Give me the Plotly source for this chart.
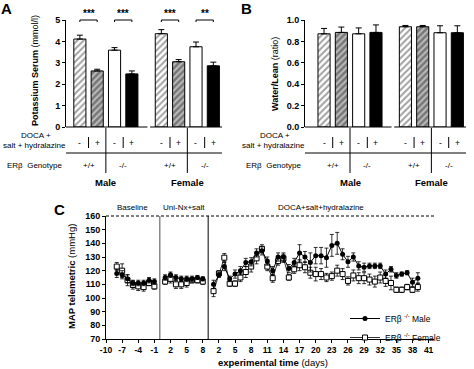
import plotly.graph_objects as go

# ---------------- data ----------------
sexes = ["Male", "Female"]
genotypes = ["+/+", "-/-"]
treatments = ["-", "+"]

potassium = [4.11, 2.62, 3.59, 2.48, 4.36, 3.05, 3.75, 2.86]
potassium_err = [0.18, 0.08, 0.12, 0.14, 0.19, 0.10, 0.22, 0.17]
sig_labels = ["***", "***", "***", "**"]

water_lean = [0.871, 0.884, 0.871, 0.884, 0.937, 0.937, 0.881, 0.881]
water_lean_err = [0.05, 0.05, 0.055, 0.07, 0.012, 0.012, 0.065, 0.065]

baseline_days = [-8, -7, -6, -5, -4, -3, -2, -1]
male_baseline = [118, 117, 114, 111, 111, 111, 113, 112]
male_baseline_err = [3, 3, 3, 2, 2, 2, 2, 2]
female_baseline = [123, 120, 113, 109.5, 108.5, 108, 111, 108.5]
female_baseline_err = [3, 5, 4, 3, 3, 3, 2, 2]

uninx_days = [1, 2, 3, 4, 5, 6, 7, 8]
male_uninx = [115, 117, 115, 114, 114, 114, 115, 114]
male_uninx_err = [2, 2, 2, 2, 2, 2, 1.5, 1.5]
female_uninx = [112, 114, 110, 110, 111, 113, 113, 112]
female_uninx_err = [2, 3, 3, 3, 3, 2, 2, 2]

doca_days = list(range(1, 40))
male_doca = [110, 117, 123, 114, 117.5, 120, 126, 126.5, 133, 134.5,
             127, 120, 130, 130, 121.5, 126, 133, 130, 126, 131,
             131, 129.5, 138.5, 140, 132, 126.5, 130, 123.5, 122.5, 123.5,
             123.5, 123.5, 117.5, 121, 116.5, 117.5, 118.5, 111.5, 114.5]
male_doca_err = [3, 2, 3, 2, 3, 3, 3, 3, 3, 3,
                 3, 3, 3, 3, 3, 3, 6, 4, 7, 6,
                 6, 7, 8, 8, 4, 4, 3, 3, 3, 2,
                 2, 2, 3, 2, 2, 1.5, 1.5, 3, 4]
female_doca = [105, 118, 129.5, 110.5, 110.5, 115, 119, 123, 129, 136,
               123, 114.5, 127, 129, 115, 121, 124, 122.5, 118.5, 117.5,
               117.5, 115, 116, 120, 117.5, 112.5, 116.5, 114.5, 114.5, 113.5,
               112, 115, 112.5, 111, 106, 106, 108, 106, 108]
female_doca_err = [4, 2, 3, 2, 2, 3, 4, 4, 4, 3,
                   3, 3, 3, 3, 2, 3, 4, 4, 4, 5,
                   4, 3, 3, 4, 4, 3, 4, 4, 4, 4,
                   4, 4, 4, 5, 2, 2, 2, 2, 3]

phase_names = ["Baseline", "Uni-Nx+salt", "DOCA+salt+hydralazine"]
baseline_ticks = [-10, -7, -4, -1]
uninx_ticks = [2, 5, 8]
doca_ticks = [2, 5, 8, 11, 14, 17, 20, 23, 26, 29, 32, 35, 38, 41]

# ---------------- layout helpers ----------------
W, H = 474, 369
FONT = "Liberation Sans"


def px(x):
    return x / W


def py(y):
    return 1 - y / H


def dpx(d):
    return d / W


GROUP_STEP = 4.7
OFFSET = 0.8
bar_pos = [g * GROUP_STEP + i + OFFSET for g in range(2) for i in range(4)]
bar_colors = ["white", "#777777", "white", "black"] * 2
bar_shapes = ["/", "/", "", ""] * 2

A_dom_x = [px(66), px(222)]
A_rng_x = [0, 9]
B_dom_x = [px(305), px(466)]
B_rng_x = [-0.3, 9]
AB_dom_y = [py(127), py(20)]

C_dom_x = [px(106), px(434)]
C_rng_x = [-10, 51]
C_dom_y = [py(339), py(216)]
C_rng_y = [70, 160]
DOCA_SHIFT = 9


def xp(pos, dom, rng):
    return dom[0] + (pos - rng[0]) / (rng[1] - rng[0]) * (dom[1] - dom[0])


def text(x, y, t, size=8, xanchor="center", angle=0):
    return dict(x=x, y=y, xref="paper", yref="paper", text=t, showarrow=False,
                xanchor=xanchor, yanchor="middle", textangle=angle,
                font=dict(family=FONT, size=size, color="black"))


fig = go.Figure()

for vals, errs, xa, ya in [(potassium, potassium_err, "x", "y"),
                           (water_lean, water_lean_err, "x2", "y2")]:
    fig.add_trace(go.Bar(
        x=bar_pos, y=vals, width=0.7, xaxis=xa, yaxis=ya,
        marker=dict(color=bar_colors, line=dict(color="black", width=1),
                    pattern=dict(shape=bar_shapes, fillmode="overlay",
                                 fgcolor="black", size=4.5, solidity=0.45)),
        error_y=dict(type="data", array=errs, arrayminus=[0] * 8,
                     symmetric=False, thickness=1, width=3, color="black"),
        showlegend=False, hoverinfo="skip"))


def series(days_list, shifts):
    xs = []
    for days, sh in zip(days_list, shifts):
        xs += [d + sh for d in days] + [None]
    return xs[:-1]


x_all = series([baseline_days, uninx_days, doca_days], [0, 0, DOCA_SHIFT])
male_all = male_baseline + [None] + male_uninx + [None] + male_doca
male_err_all = male_baseline_err + [0] + male_uninx_err + [0] + male_doca_err
female_all = female_baseline + [None] + female_uninx + [None] + female_doca
female_err_all = female_baseline_err + [0] + female_uninx_err + [0] + female_doca_err

fig.add_trace(go.Scatter(
    x=x_all, y=female_all, xaxis="x3", yaxis="y3", mode="lines+markers",
    name="ERβ <sup>-/-</sup> Female", hoverinfo="skip",
    line=dict(color="black", width=0.8),
    marker=dict(symbol="square", size=5, color="white",
                line=dict(color="black", width=1)),
    error_y=dict(type="data", array=female_err_all, thickness=0.8,
                 width=2, color="black")))
fig.add_trace(go.Scatter(
    x=x_all, y=male_all, xaxis="x3", yaxis="y3", mode="lines+markers",
    name="ERβ <sup>-/-</sup> Male", hoverinfo="skip",
    line=dict(color="black", width=1),
    marker=dict(symbol="circle", size=5, color="black"),
    error_y=dict(type="data", array=male_err_all, thickness=0.8,
                 width=2, color="black")))

tickfont = dict(family=FONT, size=9, color="black", weight="bold")
yax_common = dict(showline=True, linecolor="black", linewidth=1, ticks="outside",
                  ticklen=3, tickcolor="black", showgrid=False, zeroline=False,
                  tickfont=tickfont, fixedrange=True, automargin=False)
xax_hidden = dict(visible=False, fixedrange=True, automargin=False)

shapes = []
annotations = []


def line(x0, y0, x1, y1, color="black", width=1, dash=None):
    d = dict(type="line", xref="paper", yref="paper", x0=x0, y0=y0, x1=x1, y1=y1,
             line=dict(color=color, width=width))
    if dash:
        d["line"]["dash"] = dash
    return d


for dom, rng in [(A_dom_x, A_rng_x), (B_dom_x, B_rng_x)]:
    X = lambda p, dom=dom, rng=rng: xp(p, dom, rng)
    shapes.append(line(dom[0], AB_dom_y[0], X(4.7), AB_dom_y[0]))
    shapes.append(line(X(4.85), AB_dom_y[0], dom[1], AB_dom_y[0]))
    shapes.append(line(dom[0], py(153), dom[1], py(153)))
    for g in range(2):
        b = bar_pos[g * 4:(g + 1) * 4]
        mid = (b[1] + b[2]) / 2
        shapes.append(line(X(mid), py(128), X(mid), py(173)))
        annotations.append(text(X(mid), py(182), "<b>" + sexes[g] + "</b>", size=9.5))
        for k in range(2):
            p0, p1 = b[2 * k], b[2 * k + 1]
            c = (p0 + p1) / 2
            shapes.append(line(X(c), py(137), X(c), py(148)))
            for p, t in zip([p0, p1], treatments):
                annotations.append(text(X(p), py(142.5), t, size=8.5))
            annotations.append(text(X(c), py(165), genotypes[k]))
    annotations.append(text(dom[0] - dpx(30), py(135.5), "DOCA +"))
    annotations.append(text(dom[0] + dpx(2), py(145), "salt + hydralazine", xanchor="right"))
    annotations.append(text(dom[0] - dpx(2), py(165), "ERβ  Genotype", xanchor="right"))

XA = lambda p: xp(p, A_dom_x, A_rng_x)
for k in range(4):
    p0, p1 = bar_pos[2 * k], bar_pos[2 * k + 1]
    shapes.append(dict(type="path", xref="paper", yref="paper",
                       path=f"M {XA(p0)},{py(22)} L {XA(p0)},{py(20)} L {XA(p1)},{py(20)} L {XA(p1)},{py(22)}",
                       line=dict(color="black", width=1)))
    annotations.append(text((XA(p0) + XA(p1)) / 2, py(13.5), "<b>" + sig_labels[k] + "</b>", size=10))

annotations.append(text(px(35), py(71), "<b>Potassium Serum</b> (mmol/l)", size=9, angle=-90))
annotations.append(text(px(275), py(74), "<b>Water/Lean</b> (ratio)", size=9, angle=-90))

for t, x, y in [("A", 6, 8), ("B", 246, 8), ("C", 59, 209)]:
    annotations.append(text(px(x), py(y), "<b>" + t + "</b>", size=15))

XC = lambda p: xp(p, C_dom_x, C_rng_x)
shapes.append(line(C_dom_x[0], C_dom_y[1], C_dom_x[1], C_dom_y[1], dash="3px,2px"))
shapes.append(line(XC(0), C_dom_y[0], XC(0), C_dom_y[1], color="#888888", width=1.5))
shapes.append(line(XC(DOCA_SHIFT), C_dom_y[0], XC(DOCA_SHIFT), C_dom_y[1]))
phase_bounds = [(-10, 0), (0, DOCA_SHIFT), (DOCA_SHIFT, 51)]
for name, (a, b) in zip(phase_names, phase_bounds):
    annotations.append(text(XC((a + b) / 2), py(208), name, size=8))
annotations.append(text(px(273), py(362), "<b>experimental time</b> (days)", size=9.5))
annotations.append(text(px(71), py(277), "<b>MAP telemetric</b> (mmHg)", size=9.5, angle=-90))

c_tickvals = baseline_ticks + uninx_ticks + [d + DOCA_SHIFT for d in doca_ticks]
c_ticktext = [str(v) for v in baseline_ticks + uninx_ticks + doca_ticks]

fig.update_layout(
    width=W, height=H, margin=dict(l=0, r=0, t=0, b=0, autoexpand=False),
    paper_bgcolor="white", plot_bgcolor="white",
    font=dict(family=FONT, color="black"),
    hovermode=False,
    xaxis=dict(domain=A_dom_x, range=A_rng_x, **xax_hidden),
    yaxis=dict(domain=AB_dom_y, range=[0, 5], tickvals=[0, 1, 2, 3, 4, 5], **yax_common),
    xaxis2=dict(domain=B_dom_x, range=B_rng_x, **xax_hidden),
    yaxis2=dict(domain=AB_dom_y, range=[0, 1.0], tickvals=[0, 0.2, 0.4, 0.6, 0.8, 1.0],
                tickformat=".1f", anchor="x2", **yax_common),
    xaxis3=dict(domain=C_dom_x, range=C_rng_x, anchor="y3", tickvals=c_tickvals,
                ticktext=c_ticktext, showline=True, linecolor="black", ticks="outside",
                ticklen=3, tickcolor="black", showgrid=False, zeroline=False,
                tickfont=dict(family=FONT, size=8.5, color="black", weight="bold"),
                fixedrange=True, automargin=False),
    yaxis3=dict(domain=C_dom_y, range=C_rng_y, anchor="x3", dtick=10, **yax_common),
    shapes=shapes, annotations=annotations,
    legend=dict(x=px(345), y=py(304), xanchor="left", yanchor="top",
                font=dict(family=FONT, size=8.5, color="black"),
                bgcolor="rgba(0,0,0,0)", traceorder="reversed",
                itemwidth=30, tracegroupgap=0, itemclick=False, itemdoubleclick=False),
    bargap=0,
)

fig.write_html(
    "out.html",
    config={"displayModeBar": False, "staticPlot": True},
    post_script="document.body.style.margin='0';"
                "document.documentElement.style.overflow='hidden';",
)
